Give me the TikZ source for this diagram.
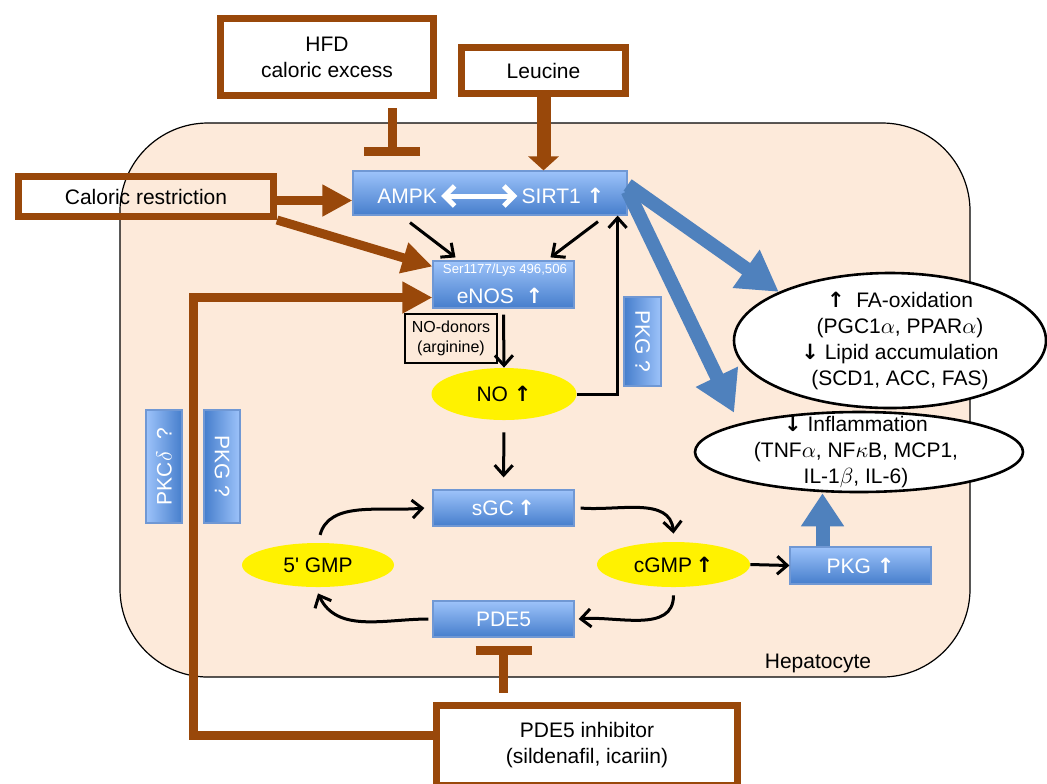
\documentclass[tikz,border=0pt]{standalone}
\usepackage{fontspec}
\setmainfont{Liberation Sans}
\newfontfamily\arrfont{DejaVu Sans}
\usetikzlibrary{arrows.meta,shapes.geometric,calc}
\definecolor{brn}{RGB}{153,72,10}
\definecolor{peach}{RGB}{253,234,218}
\definecolor{bltop}{RGB}{157,195,250}
\definecolor{blbot}{RGB}{70,126,204}
\definecolor{bledge}{RGB}{112,152,212}
\definecolor{blarr}{RGB}{79,129,189}
\newcommand{\labfont}{\fontsize{10.5}{12.9}\selectfont}
\newcommand{\uarr}{{\arrfont\bfseries ↑}}
\newcommand{\darr}{{\arrfont\bfseries ↓}}
\tikzset{
 hepcell/.style={draw,fill=peach,line width=.6pt,rounded corners=44pt},
 brbox/.style={draw=brn,line width=3.5pt,align=center,font=\labfont},
 bbox/.style={draw=bledge,line width=.6pt,top color=bltop,bottom color=blbot,text=white,font=\labfont,inner sep=1pt},
 wtxt/.style={text=white,font=\labfont,inner sep=2pt},
 yell/.style={ellipse,fill=yellow,font=\labfont,inner sep=0pt},
 well/.style={ellipse,draw,fill=white,line width=1.3pt},
 brarr/.style={brn,line width=4.5pt,-{Triangle[length=15pt,width=15pt]}},
 brbar/.style={brn,line width=4.5pt,-{Bar[width=28pt]}},
 blarrow/.style={blarr,line width=7pt,-{Triangle[length=20pt,width=22pt]}},
 blk/.style={line width=1.5pt,-{Straight Barb[length=5pt,width=9pt]}}
}
\begin{document}
\begin{tikzpicture}[x=.5pt,y=-.5pt]
\useasboundingbox (0,0) rectangle (1047,783);
\node[hepcell,minimum width=425pt,minimum height=277pt] (hep) at (545,400) {};
\node[font=\labfont] (heplbl) at (818,663) {Hepatocyte};
%inputs
\node[brbox,fill=white,minimum width=106.5pt,minimum height=38.5pt] (hfd) at (327,57) {HFD\\caloric excess};
\node[brbox,minimum width=127.5pt,minimum height=20pt] (cr) at (146,196.5) {Caloric restriction};
\node[brbox,fill=white,minimum width=82pt,minimum height=23pt] (leu) at (543.5,70.5) {Leucine};
\node[brbox,fill=white,minimum width=150.5pt,minimum height=40pt] (inh) at (587,745) {PDE5 inhibitor\\(sildenafil, icariin)};
%blue boxes
\node[bbox,minimum width=137pt,minimum height=22pt] (amsir) at (490,193) {};
\node[wtxt] (ampk) at (407,196) {AMPK};
\node[wtxt] (sirt) at (563,196) {SIRT1 \uarr};
\node[bbox,minimum width=70.5pt,minimum height=23.5pt] (enos) at (503.5,284.5) {};
\node[wtxt,font=\fontsize{6.6}{8}\selectfont] (ser) at (505,270) {Ser1177/Lys 496,506};
\node[wtxt] (enostxt) at (500,296) {eNOS\ \ \uarr};
\node[bbox,minimum width=70.5pt,minimum height=18pt] (sgc) at (503.5,508) {sGC\,\uarr};
\node[bbox,minimum width=70.5pt,minimum height=18pt] (pde) at (503.5,619) {PDE5};
\node[bbox,minimum width=70.5pt,minimum height=18.5pt] (pkg) at (860.5,565.5) {PKG \uarr};
\node[bbox,left color=blbot,right color=bltop,minimum width=18.5pt,minimum height=44.5pt] (pkgq) at (642.5,341.5) {};
\node[wtxt,rotate=-90] (pkgqtxt) at (pkgq) {PKG ?};
\node[bbox,left color=bltop,right color=blbot,minimum width=18pt,minimum height=56.5pt] (pkcd) at (164,466.5) {};
\node[wtxt,rotate=90] (pkcdtxt) at (pkcd) {PKC$\delta$\ \ ?};
\node[bbox,left color=blbot,right color=bltop,minimum width=18pt,minimum height=56.5pt] (pkgl) at (222,466.5) {};
\node[wtxt,rotate=-90] (pkgltxt) at (pkgl) {PKG ?};
\node[draw,line width=.6pt,align=center,font=\fontsize{8}{10}\selectfont,minimum width=46pt,minimum height=24.5pt,inner sep=1pt] (donor) at (451,338.5) {NO-donors\\(arginine)};
%ellipses
\node[yell,minimum width=72.5pt,minimum height=26pt] (no) at (504,394) {NO \uarr};
\node[yell,minimum width=76pt,minimum height=22pt] (gmp) at (318,565) {5\textquotesingle\ GMP};
\node[yell,minimum width=76.5pt,minimum height=22.5pt] (cgmp) at (673.5,564.5) {cGMP\,\uarr};
\node[well,minimum width=156pt,minimum height=67.5pt] (fa) at (890,340.5) {};
\node[font=\labfont,align=center] (fatxt) at (900,341) {\uarr\ \ FA-oxidation\\(PGC1$\alpha$, PPAR$\alpha$)\\\darr\ Lipid accumulation\\(SCD1, ACC, FAS)};
\node[well,minimum width=164pt,minimum height=40pt] (infl) at (859,452) {};
\node[font=\labfont,align=center] (infltxt) at (856,452) {\darr\ Inflammation\\(TNF$\alpha$, NF$\kappa$B, MCP1,\\IL-1$\beta$, IL-6)};
%brown arrows
\draw[brarr] ([yshift=-2pt]cr.east) -- ([yshift=-2pt]cr.east -| amsir.west);
\draw[brarr] (cr.south east) -- ([yshift=9pt]enos.west);
\draw[brarr,line width=7pt,-{Triangle[length=7pt,width=15pt]}] (leu.south) -- (leu.south |- amsir.north);
\coordinate (hfdbar) at ([xshift=32.5pt]hfd.south);
\draw[brbar,shorten <=4.5pt,shorten >=7pt] (hfdbar) -- (hfdbar |- amsir.north);
\draw[brbar,shorten <=4.5pt,shorten >=4pt] (pde.south |- inh.north) -- (pde.south);
\coordinate (elb) at (193,735);
\draw[brarr] (inh.west |- elb) -- (elb) |- ([yshift=-6.5pt]enos.west);
%blue arrows
\draw[blarrow] ([yshift=4pt]amsir.east) -- (fa.north west);
\draw[blarrow] ([yshift=1pt]amsir.east) -- ($(infl.north west)+(-8,-10)$);
\coordinate (pkgup) at ([xshift=-19pt]pkg.north);
\draw[blarrow,-{Triangle[length=16.5pt,width=20.5pt]}] (pkgup) -- (pkgup |- infl.south);
%black arrows
\draw[white,line width=2.5pt,{Straight Barb[length=5pt,width=10pt]}-{Straight Barb[length=5pt,width=10pt]}] (ampk) -- (sirt);
\draw[blk] ([xshift=-40pt,yshift=-3.5pt]amsir.south) -- ([xshift=-24pt,yshift=1.5pt]enos.north);
\draw[blk] ([xshift=54pt,yshift=-3pt]amsir.south) -- ([xshift=23.5pt,yshift=1.5pt]enos.north);
\draw[blk] ([yshift=-3pt]enos.south) -- (no.north);
\draw[blk] (no.east) -| ([xshift=-5pt]amsir.south east);
\draw[blk,shorten <=6pt,shorten >=6pt] (no.south) -- (sgc.north);
\draw[blk] (cgmp.east) -- (pkg.west);
%cycle
\draw[blk,shorten <=4pt] (gmp.north) to[out=75,in=185] ([xshift=-4pt]sgc.west);
\draw[blk] ([xshift=3pt]sgc.east) to[out=-5,in=95] ([yshift=4pt]cgmp.north);
\draw[blk] ([yshift=-4pt]cgmp.south) to[out=-90,in=5] ([xshift=2pt]pde.east);
\draw[blk] ([xshift=-2pt]pde.west) to[out=180,in=-65] ([yshift=-3pt]gmp.south);
\end{tikzpicture}
\end{document}
